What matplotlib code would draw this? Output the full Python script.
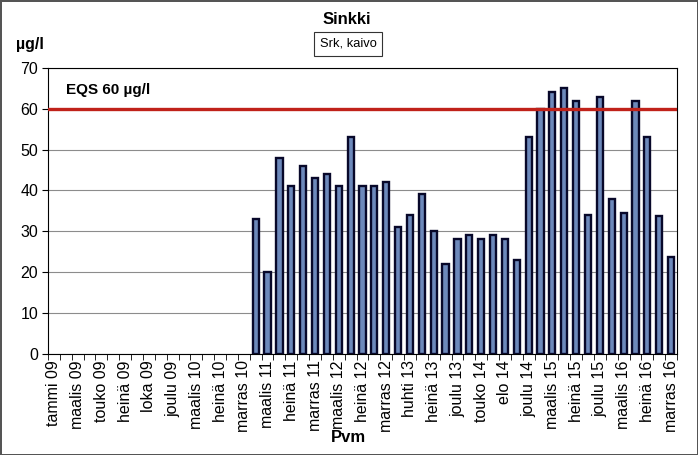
import numpy as np
import matplotlib
matplotlib.use('Agg')
import matplotlib.pyplot as plt

plt.rcParams['font.family'] = ['Liberation Sans', 'DejaVu Sans']

# tick labels, one every second sample slot
tick_labels = ['tammi 09', 'maalis 09', 'touko 09', 'heinä 09', 'loka 09', 'joulu 09',
               'maalis 10', 'heinä 10', 'marras 10', 'maalis 11', 'heinä 11', 'marras 11',
               'maalis 12', 'heinä 12', 'marras 12', 'huhti 13', 'heinä 13', 'joulu 13',
               'touko 14', 'elo 14', 'joulu 14', 'maalis 15', 'heinä 15', 'joulu 15',
               'maalis 16', 'heinä 16', 'marras 16']

# zinc µg/l, None = no sample
zinc = [None] * 17 + [
    33, 20, 48, 41, 46, 43, 44, 41, 53, 41, 41, 42, 31, 34, 39, 30, 22,
    28, 29, 28, 29, 28, 23, 53, 60, 64, 65, 62, 34, 63, 38, 34.4, 62, 53,
    33.8, 23.6]

EQS = 60
series_name = 'Srk, kaivo'

BAR_C = '#6d89bb'
EDGE_C = '#08082a'
RED_C = '#c0221a'
GRID_C = '#8c8c8c'

n = len(zinc)
x = np.arange(n)
vals = np.array([np.nan if v is None else v for v in zinc], dtype=float)

fig = plt.figure(figsize=(6.98, 4.55), dpi=100)
fig.patch.set_facecolor('white')
fig.patch.set_edgecolor('#555555')
fig.patch.set_linewidth(2)

ax = fig.add_axes([48 / 698, (455 - 353.5) / 455, 629 / 698, 285.5 / 455])

mask = ~np.isnan(vals)
ax.bar(x[mask], vals[mask], width=0.52, color=BAR_C, edgecolor=EDGE_C,
       linewidth=1.7, zorder=3, label=series_name)

ax.axhline(EQS, color=RED_C, lw=2.4, zorder=4)
ax.text(1.0, EQS + 4.5, f'EQS {EQS} µg/l', fontsize=11, fontweight='bold',
        va='center', ha='left', zorder=5)

ax.set_xlim(-0.5, n - 0.5)
ax.set_ylim(0, 70)
ax.set_yticks(np.arange(0, 71, 10))
ax.yaxis.grid(True, color=GRID_C, lw=0.8, zorder=0)
ax.set_axisbelow(True)

# labels on every second slot, tick marks on slot boundaries
ax.set_xticks(x[::2])
ax.set_xticklabels(tick_labels, rotation=90, fontsize=11.5)
ax.set_xticks(np.arange(-0.5, n, 1.0), minor=True)
ax.tick_params(axis='x', which='major', length=0, pad=5)
ax.tick_params(axis='x', which='minor', length=4, direction='out', color='black')
ax.tick_params(axis='y', length=4, direction='out', labelsize=11.5, pad=3)

for s in ax.spines.values():
    s.set_color('black')
    s.set_linewidth(0.8)

fig.text(347 / 698, 1 - 20 / 455, 'Sinkki', ha='center', va='center',
         fontsize=12, fontweight='bold')
fig.text(348 / 698, 1 - 44 / 455, series_name, ha='center', va='center',
         fontsize=9.3,
         bbox=dict(boxstyle='square,pad=0.45', fc='white', ec='#333333', lw=0.8))
fig.text(16 / 698, 1 - 45 / 455, 'µg/l', ha='left', va='center',
         fontsize=11.5, fontweight='bold')
fig.text(348 / 698, 1 - 438 / 455, 'Pvm', ha='center', va='center',
         fontsize=12, fontweight='bold')

fig.savefig('out.png', dpi=100, facecolor=fig.get_facecolor(),
            edgecolor=fig.get_edgecolor())
